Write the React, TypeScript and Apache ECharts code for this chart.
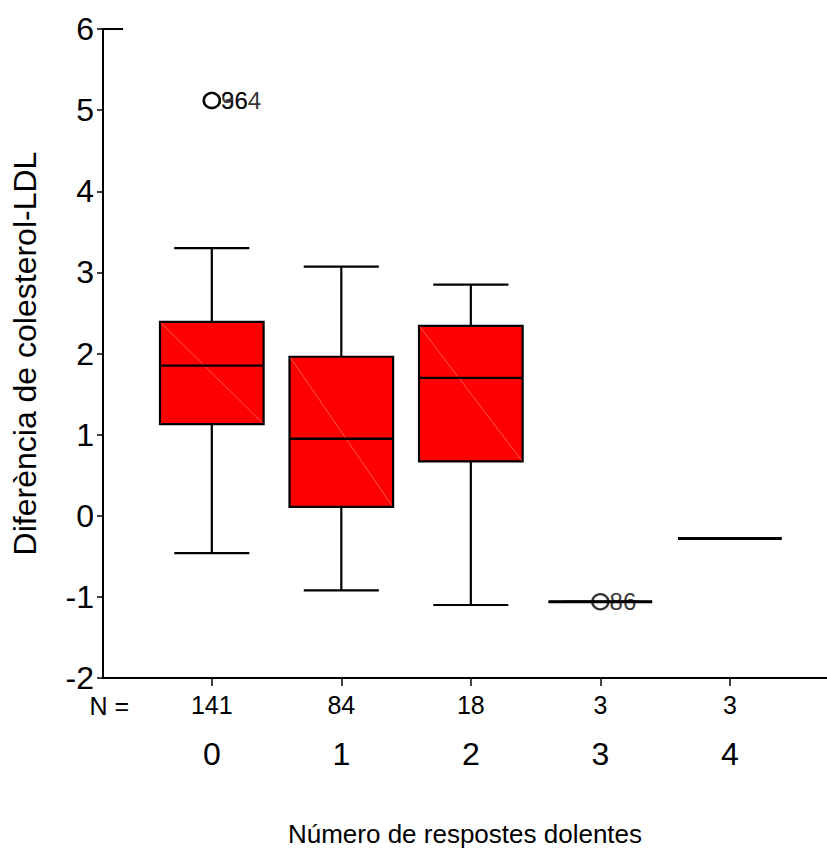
import React, { useEffect, useRef } from "react";
import * as echarts from "echarts";

const categories = ["0", "1", "2", "3", "4"];
const nCounts = [141, 84, 18, 3, 3];
const whiskerLow = [-0.46, -0.92, -1.1, -1.06, -0.28];
const q1 = [1.13, 0.11, 0.67, -1.06, -0.28];
const median = [1.85, 0.95, 1.7, -1.06, -0.28];
const q3 = [2.39, 1.96, 2.34, -1.06, -0.28];
const whiskerHigh = [3.3, 3.07, 2.85, -1.06, -0.28];
const outlierX = [0, 0, 3];
const outlierY = [5.12, 5.12, -1.06];
const outlierLabels = ["96", "364", "86"];
const xTickValues = [0, 1, 2, 3, 4];

const FONT = "'Liberation Sans', Arial, Helvetica, sans-serif";

export default function App() {
  const ref = useRef<HTMLDivElement>(null);
  useEffect(() => {
    document.body.style.margin = "0";
    const chart = echarts.init(ref.current!, undefined, { renderer: "svg" });
    const boxData = categories.map((_, i) => [
      i,
      whiskerLow[i],
      q1[i],
      median[i],
      q3[i],
      whiskerHigh[i],
    ]);
    const outlierData = outlierX.map((x, i) => [x, outlierY[i]]);
    const option: any = {
      animation: false,
      backgroundColor: "#fff",
      textStyle: { fontFamily: FONT, color: "#000" },
      grid: { left: 103, right: 0, top: 29, bottom: 178, containLabel: false },
      xAxis: {
        type: "value",
        min: -0.84,
        max: 4.75,
        axisLine: { onZero: false, lineStyle: { color: "#000", width: 2 } },
        axisTick: {
          show: true,
          customValues: xTickValues,
          length: 8,
          lineStyle: { color: "#000", width: 1.5 },
        },
        axisLabel: {
          show: true,
          customValues: xTickValues,
          margin: 13,
          color: "#000",
          formatter: (v: number) => {
            const i = Math.round(v);
            return `{n|${nCounts[i]}}\n{c|${categories[i]}}`;
          },
          rich: {
            n: { fontSize: 25, lineHeight: 28, fontFamily: FONT, color: "#000" },
            c: { fontSize: 32, lineHeight: 70, fontFamily: FONT, color: "#000" },
          },
        },
        splitLine: { show: false },
        name: "Número de respostes dolentes",
        nameLocation: "middle",
        nameGap: 143,
        nameTextStyle: { fontSize: 26, fontFamily: FONT, color: "#000" },
      },
      yAxis: {
        type: "value",
        min: -2,
        max: 6,
        interval: 1,
        axisLine: { show: true, onZero: false, lineStyle: { color: "#000", width: 2 } },
        axisTick: { show: true, length: 6, lineStyle: { color: "#000", width: 1.5 } },
        axisLabel: { fontSize: 32, margin: 9, color: "#000", fontFamily: FONT },
        splitLine: { show: false },
        name: "Diferència de colesterol-LDL",
        nameLocation: "middle",
        nameRotate: 90,
        nameGap: 62,
        nameTextStyle: { fontSize: 32, fontFamily: FONT, color: "#000" },
      },
      graphic: [
        {
          type: "line",
          shape: { x1: 103, y1: 29, x2: 123, y2: 29 },
          style: { stroke: "#000", lineWidth: 2 },
        },
        {
          type: "text",
          x: 129,
          y: 705.5,
          style: {
            text: "N =",
            fontSize: 25,
            fontFamily: FONT,
            fill: "#000",
            align: "right",
            verticalAlign: "middle",
          },
        },
      ],
      series: [
        {
          type: "custom",
          clip: false,
          data: boxData,
          encode: { x: 0, y: [1, 2, 3, 4, 5] },
          renderItem: (params: any, api: any) => {
            const x = api.value(0);
            const pLow = api.coord([x, api.value(1)]);
            const pQ1 = api.coord([x, api.value(2)]);
            const pMed = api.coord([x, api.value(3)]);
            const pQ3 = api.coord([x, api.value(4)]);
            const pHigh = api.coord([x, api.value(5)]);
            const half = api.size([0.8, 0])[0] / 2;
            const capHalf = api.size([0.58, 0])[0] / 2;
            const cx = pMed[0];
            const stroke = { stroke: "#000", lineWidth: 2.2 };
            const l = cx - half;
            const r = cx + half;
            const degenerate = Math.abs(pQ1[1] - pQ3[1]) <= 1;
            const children: any[] = [
              {
                type: "line",
                shape: { x1: cx, y1: pQ3[1], x2: cx, y2: pHigh[1] },
                style: stroke,
              },
              {
                type: "line",
                shape: { x1: cx, y1: pQ1[1], x2: cx, y2: pLow[1] },
                style: stroke,
              },
              {
                type: "polygon",
                shape: {
                  points: [
                    [l, pQ3[1]],
                    [r, pQ3[1]],
                    [r, pQ1[1]],
                    [l, pQ1[1]],
                  ],
                },
                style: { fill: "#ff0000", stroke: "#000", lineWidth: 2.2 },
              },
            ];
            if (!degenerate) {
              children.push({
                type: "line",
                shape: { x1: l + 1, y1: pQ3[1] + 1, x2: r - 1, y2: pQ1[1] - 1 },
                style: { stroke: "#ff6a6a", lineWidth: 0.8 },
              });
            }
            children.push(
              {
                type: "line",
                shape: { x1: l, y1: pMed[1], x2: r, y2: pMed[1] },
                style: { stroke: "#000", lineWidth: degenerate ? 3 : 2.4 },
              },
              {
                type: "line",
                shape: { x1: cx - capHalf, y1: pHigh[1], x2: cx + capHalf, y2: pHigh[1] },
                style: stroke,
              },
              {
                type: "line",
                shape: { x1: cx - capHalf, y1: pLow[1], x2: cx + capHalf, y2: pLow[1] },
                style: stroke,
              }
            );
            return { type: "group", children };
          },
        },
        {
          type: "scatter",
          data: outlierData,
          symbol: "circle",
          symbolSize: [16, 15],
          z: 3,
          itemStyle: { color: "rgba(0,0,0,0)", borderColor: "#000", borderWidth: 2.4 },
          label: {
            show: true,
            position: "right",
            distance: 0,
            fontSize: 24,
            fontFamily: FONT,
            color: "#000",
            formatter: (p: any) => outlierLabels[p.dataIndex],
          },
        },
      ],
    };
    chart.setOption(option);
    return () => chart.dispose();
  }, []);
  return (
    <div
      ref={ref}
      style={{ position: "absolute", left: 0, top: 0, width: 827, height: 856 }}
    />
  );
}
